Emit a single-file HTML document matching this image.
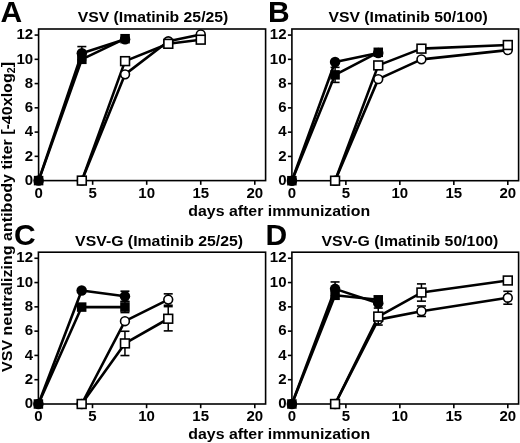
<!DOCTYPE html>
<html><head><meta charset="utf-8"><style>
html,body{margin:0;padding:0;background:#fff;}
svg{display:block;filter:grayscale(1);}
text{font-family:"Liberation Sans", sans-serif;font-weight:bold;fill:#000;}
.tk{font-size:15.5px;}
.tt{font-size:15px;}
.lt{font-size:30px;}
.xl{font-size:15px;}
.yl{font-size:15px;}
</style></head><body>
<svg width="520" height="443" viewBox="0 0 520 443">
<rect x="38.60" y="29.00" width="227.00" height="151.60" fill="none" stroke="#000" stroke-width="1.6"/>
<line x1="34.60" y1="180.60" x2="38.60" y2="180.60" stroke="#000" stroke-width="1.6"/>
<text transform="translate(33.20,184.80) scale(0.97,1)" text-anchor="end" class="tk">0</text>
<line x1="34.60" y1="156.34" x2="38.60" y2="156.34" stroke="#000" stroke-width="1.6"/>
<text transform="translate(33.20,160.54) scale(0.97,1)" text-anchor="end" class="tk">2</text>
<line x1="34.60" y1="132.09" x2="38.60" y2="132.09" stroke="#000" stroke-width="1.6"/>
<text transform="translate(33.20,136.29) scale(0.97,1)" text-anchor="end" class="tk">4</text>
<line x1="34.60" y1="107.83" x2="38.60" y2="107.83" stroke="#000" stroke-width="1.6"/>
<text transform="translate(33.20,112.03) scale(0.97,1)" text-anchor="end" class="tk">6</text>
<line x1="34.60" y1="83.58" x2="38.60" y2="83.58" stroke="#000" stroke-width="1.6"/>
<text transform="translate(33.20,87.78) scale(0.97,1)" text-anchor="end" class="tk">8</text>
<line x1="34.60" y1="59.32" x2="38.60" y2="59.32" stroke="#000" stroke-width="1.6"/>
<text transform="translate(33.20,63.52) scale(0.97,1)" text-anchor="end" class="tk">10</text>
<line x1="34.60" y1="35.06" x2="38.60" y2="35.06" stroke="#000" stroke-width="1.6"/>
<text transform="translate(33.20,39.26) scale(0.97,1)" text-anchor="end" class="tk">12</text>
<line x1="38.60" y1="180.60" x2="38.60" y2="184.80" stroke="#000" stroke-width="1.6"/>
<text transform="translate(38.60,197.75) scale(0.97,1)" text-anchor="middle" class="tk">0</text>
<line x1="92.65" y1="180.60" x2="92.65" y2="184.80" stroke="#000" stroke-width="1.6"/>
<text transform="translate(92.65,197.75) scale(0.97,1)" text-anchor="middle" class="tk">5</text>
<line x1="146.70" y1="180.60" x2="146.70" y2="184.80" stroke="#000" stroke-width="1.6"/>
<text transform="translate(146.70,197.75) scale(0.97,1)" text-anchor="middle" class="tk">10</text>
<line x1="200.74" y1="180.60" x2="200.74" y2="184.80" stroke="#000" stroke-width="1.6"/>
<text transform="translate(200.74,197.75) scale(0.97,1)" text-anchor="middle" class="tk">15</text>
<line x1="254.79" y1="180.60" x2="254.79" y2="184.80" stroke="#000" stroke-width="1.6"/>
<text transform="translate(254.79,197.75) scale(0.97,1)" text-anchor="middle" class="tk">20</text>
<polyline points="81.84,180.60 125.08,74.36 168.31,41.25 200.74,34.46" fill="none" stroke="#000" stroke-width="2.6" stroke-linejoin="round"/>
<polyline points="81.84,180.60 125.08,61.14 168.31,43.80 200.74,39.67" fill="none" stroke="#000" stroke-width="2.6" stroke-linejoin="round"/>
<polyline points="38.60,180.60 81.84,59.32 125.08,38.70" fill="none" stroke="#000" stroke-width="2.6" stroke-linejoin="round"/>
<polyline points="38.60,180.60 81.84,53.26 125.08,39.31" fill="none" stroke="#000" stroke-width="2.6" stroke-linejoin="round"/>
<circle cx="81.84" cy="180.60" r="4.4" fill="#fff" stroke="#000" stroke-width="1.6"/>
<circle cx="125.08" cy="74.36" r="4.4" fill="#fff" stroke="#000" stroke-width="1.6"/>
<circle cx="168.31" cy="41.25" r="4.4" fill="#fff" stroke="#000" stroke-width="1.6"/>
<circle cx="200.74" cy="34.46" r="4.4" fill="#fff" stroke="#000" stroke-width="1.6"/>
<rect x="77.44" y="176.20" width="8.8" height="8.8" fill="#fff" stroke="#000" stroke-width="1.6"/>
<rect x="120.68" y="56.74" width="8.8" height="8.8" fill="#fff" stroke="#000" stroke-width="1.6"/>
<rect x="163.91" y="39.40" width="8.8" height="8.8" fill="#fff" stroke="#000" stroke-width="1.6"/>
<rect x="196.34" y="35.27" width="8.8" height="8.8" fill="#fff" stroke="#000" stroke-width="1.6"/>
<rect x="33.85" y="175.85" width="9.5" height="9.5" fill="#000"/>
<rect x="77.09" y="54.57" width="9.5" height="9.5" fill="#000"/>
<rect x="120.33" y="33.95" width="9.5" height="9.5" fill="#000"/>
<circle cx="38.60" cy="180.60" r="5.25" fill="#000"/>
<line x1="81.84" y1="46.59" x2="81.84" y2="59.93" stroke="#000" stroke-width="1.5"/>
<line x1="77.34" y1="46.59" x2="86.34" y2="46.59" stroke="#000" stroke-width="1.6"/>
<line x1="77.34" y1="59.93" x2="86.34" y2="59.93" stroke="#000" stroke-width="1.6"/>
<circle cx="81.84" cy="53.26" r="5.25" fill="#000"/>
<circle cx="125.08" cy="39.31" r="5.25" fill="#000"/>
<rect x="291.90" y="29.00" width="226.70" height="151.70" fill="none" stroke="#000" stroke-width="1.6"/>
<line x1="287.90" y1="180.70" x2="291.90" y2="180.70" stroke="#000" stroke-width="1.6"/>
<text transform="translate(286.50,184.90) scale(0.97,1)" text-anchor="end" class="tk">0</text>
<line x1="287.90" y1="156.43" x2="291.90" y2="156.43" stroke="#000" stroke-width="1.6"/>
<text transform="translate(286.50,160.63) scale(0.97,1)" text-anchor="end" class="tk">2</text>
<line x1="287.90" y1="132.16" x2="291.90" y2="132.16" stroke="#000" stroke-width="1.6"/>
<text transform="translate(286.50,136.36) scale(0.97,1)" text-anchor="end" class="tk">4</text>
<line x1="287.90" y1="107.88" x2="291.90" y2="107.88" stroke="#000" stroke-width="1.6"/>
<text transform="translate(286.50,112.08) scale(0.97,1)" text-anchor="end" class="tk">6</text>
<line x1="287.90" y1="83.61" x2="291.90" y2="83.61" stroke="#000" stroke-width="1.6"/>
<text transform="translate(286.50,87.81) scale(0.97,1)" text-anchor="end" class="tk">8</text>
<line x1="287.90" y1="59.34" x2="291.90" y2="59.34" stroke="#000" stroke-width="1.6"/>
<text transform="translate(286.50,63.54) scale(0.97,1)" text-anchor="end" class="tk">10</text>
<line x1="287.90" y1="35.07" x2="291.90" y2="35.07" stroke="#000" stroke-width="1.6"/>
<text transform="translate(286.50,39.27) scale(0.97,1)" text-anchor="end" class="tk">12</text>
<line x1="291.90" y1="180.70" x2="291.90" y2="184.90" stroke="#000" stroke-width="1.6"/>
<text transform="translate(291.90,197.85) scale(0.97,1)" text-anchor="middle" class="tk">0</text>
<line x1="345.88" y1="180.70" x2="345.88" y2="184.90" stroke="#000" stroke-width="1.6"/>
<text transform="translate(345.88,197.85) scale(0.97,1)" text-anchor="middle" class="tk">5</text>
<line x1="399.85" y1="180.70" x2="399.85" y2="184.90" stroke="#000" stroke-width="1.6"/>
<text transform="translate(399.85,197.85) scale(0.97,1)" text-anchor="middle" class="tk">10</text>
<line x1="453.83" y1="180.70" x2="453.83" y2="184.90" stroke="#000" stroke-width="1.6"/>
<text transform="translate(453.83,197.85) scale(0.97,1)" text-anchor="middle" class="tk">15</text>
<line x1="507.80" y1="180.70" x2="507.80" y2="184.90" stroke="#000" stroke-width="1.6"/>
<text transform="translate(507.80,197.85) scale(0.97,1)" text-anchor="middle" class="tk">20</text>
<polyline points="335.08,180.70 378.26,79.12 421.44,59.34 507.80,50.12" fill="none" stroke="#000" stroke-width="2.6" stroke-linejoin="round"/>
<polyline points="335.08,180.70 378.26,65.41 421.44,48.66 507.80,45.02" fill="none" stroke="#000" stroke-width="2.6" stroke-linejoin="round"/>
<polyline points="291.90,180.70 335.08,74.87 378.26,52.30" fill="none" stroke="#000" stroke-width="2.6" stroke-linejoin="round"/>
<polyline points="291.90,180.70 335.08,62.01 378.26,53.03" fill="none" stroke="#000" stroke-width="2.6" stroke-linejoin="round"/>
<circle cx="335.08" cy="180.70" r="4.4" fill="#fff" stroke="#000" stroke-width="1.6"/>
<circle cx="378.26" cy="79.12" r="4.4" fill="#fff" stroke="#000" stroke-width="1.6"/>
<circle cx="421.44" cy="59.34" r="4.4" fill="#fff" stroke="#000" stroke-width="1.6"/>
<circle cx="507.80" cy="50.12" r="4.4" fill="#fff" stroke="#000" stroke-width="1.6"/>
<rect x="330.68" y="176.30" width="8.8" height="8.8" fill="#fff" stroke="#000" stroke-width="1.6"/>
<rect x="373.86" y="61.01" width="8.8" height="8.8" fill="#fff" stroke="#000" stroke-width="1.6"/>
<rect x="417.04" y="44.26" width="8.8" height="8.8" fill="#fff" stroke="#000" stroke-width="1.6"/>
<rect x="503.40" y="40.62" width="8.8" height="8.8" fill="#fff" stroke="#000" stroke-width="1.6"/>
<rect x="287.15" y="175.95" width="9.5" height="9.5" fill="#000"/>
<line x1="335.08" y1="67.35" x2="335.08" y2="82.40" stroke="#000" stroke-width="1.5"/>
<line x1="330.58" y1="67.35" x2="339.58" y2="67.35" stroke="#000" stroke-width="1.6"/>
<line x1="330.58" y1="82.40" x2="339.58" y2="82.40" stroke="#000" stroke-width="1.6"/>
<rect x="330.33" y="70.12" width="9.5" height="9.5" fill="#000"/>
<rect x="373.51" y="47.55" width="9.5" height="9.5" fill="#000"/>
<circle cx="291.90" cy="180.70" r="5.25" fill="#000"/>
<circle cx="335.08" cy="62.01" r="5.25" fill="#000"/>
<circle cx="378.26" cy="53.03" r="5.25" fill="#000"/>
<rect x="38.40" y="252.20" width="227.20" height="151.80" fill="none" stroke="#000" stroke-width="1.6"/>
<line x1="34.40" y1="404.00" x2="38.40" y2="404.00" stroke="#000" stroke-width="1.6"/>
<text transform="translate(33.00,408.20) scale(0.97,1)" text-anchor="end" class="tk">0</text>
<line x1="34.40" y1="379.71" x2="38.40" y2="379.71" stroke="#000" stroke-width="1.6"/>
<text transform="translate(33.00,383.91) scale(0.97,1)" text-anchor="end" class="tk">2</text>
<line x1="34.40" y1="355.42" x2="38.40" y2="355.42" stroke="#000" stroke-width="1.6"/>
<text transform="translate(33.00,359.62) scale(0.97,1)" text-anchor="end" class="tk">4</text>
<line x1="34.40" y1="331.14" x2="38.40" y2="331.14" stroke="#000" stroke-width="1.6"/>
<text transform="translate(33.00,335.34) scale(0.97,1)" text-anchor="end" class="tk">6</text>
<line x1="34.40" y1="306.85" x2="38.40" y2="306.85" stroke="#000" stroke-width="1.6"/>
<text transform="translate(33.00,311.05) scale(0.97,1)" text-anchor="end" class="tk">8</text>
<line x1="34.40" y1="282.56" x2="38.40" y2="282.56" stroke="#000" stroke-width="1.6"/>
<text transform="translate(33.00,286.76) scale(0.97,1)" text-anchor="end" class="tk">10</text>
<line x1="34.40" y1="258.27" x2="38.40" y2="258.27" stroke="#000" stroke-width="1.6"/>
<text transform="translate(33.00,262.47) scale(0.97,1)" text-anchor="end" class="tk">12</text>
<line x1="38.40" y1="404.00" x2="38.40" y2="408.20" stroke="#000" stroke-width="1.6"/>
<text transform="translate(38.40,421.15) scale(0.97,1)" text-anchor="middle" class="tk">0</text>
<line x1="92.50" y1="404.00" x2="92.50" y2="408.20" stroke="#000" stroke-width="1.6"/>
<text transform="translate(92.50,421.15) scale(0.97,1)" text-anchor="middle" class="tk">5</text>
<line x1="146.59" y1="404.00" x2="146.59" y2="408.20" stroke="#000" stroke-width="1.6"/>
<text transform="translate(146.59,421.15) scale(0.97,1)" text-anchor="middle" class="tk">10</text>
<line x1="200.69" y1="404.00" x2="200.69" y2="408.20" stroke="#000" stroke-width="1.6"/>
<text transform="translate(200.69,421.15) scale(0.97,1)" text-anchor="middle" class="tk">15</text>
<line x1="254.78" y1="404.00" x2="254.78" y2="408.20" stroke="#000" stroke-width="1.6"/>
<text transform="translate(254.78,421.15) scale(0.97,1)" text-anchor="middle" class="tk">20</text>
<polyline points="81.68,404.00 124.95,321.18 168.23,299.56" fill="none" stroke="#000" stroke-width="2.6" stroke-linejoin="round"/>
<polyline points="81.68,404.00 124.95,343.40 168.23,318.75" fill="none" stroke="#000" stroke-width="2.6" stroke-linejoin="round"/>
<polyline points="38.40,404.00 81.68,307.09 124.95,307.09" fill="none" stroke="#000" stroke-width="2.6" stroke-linejoin="round"/>
<polyline points="38.40,404.00 81.68,290.45 124.95,296.28" fill="none" stroke="#000" stroke-width="2.6" stroke-linejoin="round"/>
<circle cx="81.68" cy="404.00" r="4.4" fill="#fff" stroke="#000" stroke-width="1.6"/>
<circle cx="124.95" cy="321.18" r="4.4" fill="#fff" stroke="#000" stroke-width="1.6"/>
<line x1="168.23" y1="293.85" x2="168.23" y2="305.27" stroke="#000" stroke-width="1.5"/>
<line x1="163.73" y1="293.85" x2="172.73" y2="293.85" stroke="#000" stroke-width="1.6"/>
<line x1="163.73" y1="305.27" x2="172.73" y2="305.27" stroke="#000" stroke-width="1.6"/>
<circle cx="168.23" cy="299.56" r="4.4" fill="#fff" stroke="#000" stroke-width="1.6"/>
<rect x="77.28" y="399.60" width="8.8" height="8.8" fill="#fff" stroke="#000" stroke-width="1.6"/>
<line x1="124.95" y1="331.26" x2="124.95" y2="355.55" stroke="#000" stroke-width="1.5"/>
<line x1="120.45" y1="331.26" x2="129.45" y2="331.26" stroke="#000" stroke-width="1.6"/>
<line x1="120.45" y1="355.55" x2="129.45" y2="355.55" stroke="#000" stroke-width="1.6"/>
<rect x="120.55" y="339.00" width="8.8" height="8.8" fill="#fff" stroke="#000" stroke-width="1.6"/>
<line x1="168.23" y1="306.61" x2="168.23" y2="330.89" stroke="#000" stroke-width="1.5"/>
<line x1="163.73" y1="306.61" x2="172.73" y2="306.61" stroke="#000" stroke-width="1.6"/>
<line x1="163.73" y1="330.89" x2="172.73" y2="330.89" stroke="#000" stroke-width="1.6"/>
<rect x="163.83" y="314.35" width="8.8" height="8.8" fill="#fff" stroke="#000" stroke-width="1.6"/>
<rect x="33.65" y="399.25" width="9.5" height="9.5" fill="#000"/>
<rect x="76.93" y="302.34" width="9.5" height="9.5" fill="#000"/>
<line x1="124.95" y1="301.63" x2="124.95" y2="312.56" stroke="#000" stroke-width="1.5"/>
<line x1="120.45" y1="301.63" x2="129.45" y2="301.63" stroke="#000" stroke-width="1.6"/>
<line x1="120.45" y1="312.56" x2="129.45" y2="312.56" stroke="#000" stroke-width="1.6"/>
<rect x="120.20" y="302.34" width="9.5" height="9.5" fill="#000"/>
<circle cx="38.40" cy="404.00" r="5.25" fill="#000"/>
<circle cx="81.68" cy="290.45" r="5.25" fill="#000"/>
<line x1="124.95" y1="291.18" x2="124.95" y2="301.38" stroke="#000" stroke-width="1.5"/>
<line x1="120.45" y1="291.18" x2="129.45" y2="291.18" stroke="#000" stroke-width="1.6"/>
<line x1="120.45" y1="301.38" x2="129.45" y2="301.38" stroke="#000" stroke-width="1.6"/>
<circle cx="124.95" cy="296.28" r="5.25" fill="#000"/>
<rect x="291.90" y="252.20" width="226.70" height="151.80" fill="none" stroke="#000" stroke-width="1.6"/>
<line x1="287.90" y1="404.00" x2="291.90" y2="404.00" stroke="#000" stroke-width="1.6"/>
<text transform="translate(286.50,408.20) scale(0.97,1)" text-anchor="end" class="tk">0</text>
<line x1="287.90" y1="379.71" x2="291.90" y2="379.71" stroke="#000" stroke-width="1.6"/>
<text transform="translate(286.50,383.91) scale(0.97,1)" text-anchor="end" class="tk">2</text>
<line x1="287.90" y1="355.42" x2="291.90" y2="355.42" stroke="#000" stroke-width="1.6"/>
<text transform="translate(286.50,359.62) scale(0.97,1)" text-anchor="end" class="tk">4</text>
<line x1="287.90" y1="331.14" x2="291.90" y2="331.14" stroke="#000" stroke-width="1.6"/>
<text transform="translate(286.50,335.34) scale(0.97,1)" text-anchor="end" class="tk">6</text>
<line x1="287.90" y1="306.85" x2="291.90" y2="306.85" stroke="#000" stroke-width="1.6"/>
<text transform="translate(286.50,311.05) scale(0.97,1)" text-anchor="end" class="tk">8</text>
<line x1="287.90" y1="282.56" x2="291.90" y2="282.56" stroke="#000" stroke-width="1.6"/>
<text transform="translate(286.50,286.76) scale(0.97,1)" text-anchor="end" class="tk">10</text>
<line x1="287.90" y1="258.27" x2="291.90" y2="258.27" stroke="#000" stroke-width="1.6"/>
<text transform="translate(286.50,262.47) scale(0.97,1)" text-anchor="end" class="tk">12</text>
<line x1="291.90" y1="404.00" x2="291.90" y2="408.20" stroke="#000" stroke-width="1.6"/>
<text transform="translate(291.90,421.15) scale(0.97,1)" text-anchor="middle" class="tk">0</text>
<line x1="345.88" y1="404.00" x2="345.88" y2="408.20" stroke="#000" stroke-width="1.6"/>
<text transform="translate(345.88,421.15) scale(0.97,1)" text-anchor="middle" class="tk">5</text>
<line x1="399.85" y1="404.00" x2="399.85" y2="408.20" stroke="#000" stroke-width="1.6"/>
<text transform="translate(399.85,421.15) scale(0.97,1)" text-anchor="middle" class="tk">10</text>
<line x1="453.83" y1="404.00" x2="453.83" y2="408.20" stroke="#000" stroke-width="1.6"/>
<text transform="translate(453.83,421.15) scale(0.97,1)" text-anchor="middle" class="tk">15</text>
<line x1="507.80" y1="404.00" x2="507.80" y2="408.20" stroke="#000" stroke-width="1.6"/>
<text transform="translate(507.80,421.15) scale(0.97,1)" text-anchor="middle" class="tk">20</text>
<polyline points="335.08,404.00 378.26,319.60 421.44,311.22 507.80,297.74" fill="none" stroke="#000" stroke-width="2.6" stroke-linejoin="round"/>
<polyline points="335.08,404.00 378.26,316.56 421.44,292.52 507.80,280.50" fill="none" stroke="#000" stroke-width="2.6" stroke-linejoin="round"/>
<polyline points="291.90,404.00 335.08,295.31 378.26,299.80" fill="none" stroke="#000" stroke-width="2.6" stroke-linejoin="round"/>
<polyline points="291.90,404.00 335.08,288.87 378.26,303.20" fill="none" stroke="#000" stroke-width="2.6" stroke-linejoin="round"/>
<circle cx="335.08" cy="404.00" r="4.4" fill="#fff" stroke="#000" stroke-width="1.6"/>
<circle cx="378.26" cy="319.60" r="4.4" fill="#fff" stroke="#000" stroke-width="1.6"/>
<line x1="421.44" y1="306.00" x2="421.44" y2="316.44" stroke="#000" stroke-width="1.5"/>
<line x1="416.94" y1="306.00" x2="425.94" y2="306.00" stroke="#000" stroke-width="1.6"/>
<line x1="416.94" y1="316.44" x2="425.94" y2="316.44" stroke="#000" stroke-width="1.6"/>
<circle cx="421.44" cy="311.22" r="4.4" fill="#fff" stroke="#000" stroke-width="1.6"/>
<line x1="507.80" y1="291.30" x2="507.80" y2="304.18" stroke="#000" stroke-width="1.5"/>
<line x1="503.30" y1="291.30" x2="512.30" y2="291.30" stroke="#000" stroke-width="1.6"/>
<line x1="503.30" y1="304.18" x2="512.30" y2="304.18" stroke="#000" stroke-width="1.6"/>
<circle cx="507.80" cy="297.74" r="4.4" fill="#fff" stroke="#000" stroke-width="1.6"/>
<rect x="330.68" y="399.60" width="8.8" height="8.8" fill="#fff" stroke="#000" stroke-width="1.6"/>
<line x1="378.26" y1="308.06" x2="378.26" y2="325.06" stroke="#000" stroke-width="1.5"/>
<line x1="373.76" y1="308.06" x2="382.76" y2="308.06" stroke="#000" stroke-width="1.6"/>
<line x1="373.76" y1="325.06" x2="382.76" y2="325.06" stroke="#000" stroke-width="1.6"/>
<rect x="373.86" y="312.16" width="8.8" height="8.8" fill="#fff" stroke="#000" stroke-width="1.6"/>
<line x1="421.44" y1="283.90" x2="421.44" y2="301.14" stroke="#000" stroke-width="1.5"/>
<line x1="416.94" y1="283.90" x2="425.94" y2="283.90" stroke="#000" stroke-width="1.6"/>
<line x1="416.94" y1="301.14" x2="425.94" y2="301.14" stroke="#000" stroke-width="1.6"/>
<rect x="417.04" y="288.12" width="8.8" height="8.8" fill="#fff" stroke="#000" stroke-width="1.6"/>
<rect x="503.40" y="276.10" width="8.8" height="8.8" fill="#fff" stroke="#000" stroke-width="1.6"/>
<rect x="287.15" y="399.25" width="9.5" height="9.5" fill="#000"/>
<rect x="330.33" y="290.56" width="9.5" height="9.5" fill="#000"/>
<rect x="373.51" y="295.05" width="9.5" height="9.5" fill="#000"/>
<circle cx="291.90" cy="404.00" r="5.25" fill="#000"/>
<line x1="335.08" y1="281.95" x2="335.08" y2="295.80" stroke="#000" stroke-width="1.5"/>
<line x1="330.58" y1="281.95" x2="339.58" y2="281.95" stroke="#000" stroke-width="1.6"/>
<line x1="330.58" y1="295.80" x2="339.58" y2="295.80" stroke="#000" stroke-width="1.6"/>
<circle cx="335.08" cy="288.87" r="5.25" fill="#000"/>
<circle cx="378.26" cy="303.20" r="5.25" fill="#000"/>
<text x="77.70" y="21.70" class="tt" textLength="150.60" lengthAdjust="spacingAndGlyphs">VSV (Imatinib 25/25)</text>
<text x="328.50" y="21.70" class="tt" textLength="159.20" lengthAdjust="spacingAndGlyphs">VSV (Imatinib 50/100)</text>
<text x="75.10" y="245.90" class="tt" textLength="168.00" lengthAdjust="spacingAndGlyphs">VSV-G (Imatinib 25/25)</text>
<text x="321.50" y="245.90" class="tt" textLength="176.80" lengthAdjust="spacingAndGlyphs">VSV-G (Imatinib 50/100)</text>
<text x="0.40" y="22.10" class="lt">A</text>
<text x="268.10" y="22.10" class="lt">B</text>
<text x="14.00" y="245.00" class="lt">C</text>
<text x="265.50" y="245.20" class="lt">D</text>
<text x="188.3" y="215.6" class="xl" textLength="181.9" lengthAdjust="spacingAndGlyphs">days after immunization</text>
<text x="188.3" y="438.7" class="xl" textLength="181.9" lengthAdjust="spacingAndGlyphs">days after immunization</text>
<text transform="translate(11.6,372) rotate(-90)" x="0" y="0" class="yl" textLength="310" lengthAdjust="spacingAndGlyphs">VSV neutralizing antibody titer [-40xlog<tspan font-size="10" dy="3">2</tspan><tspan dy="-3">]</tspan></text>
</svg>
</body></html>
